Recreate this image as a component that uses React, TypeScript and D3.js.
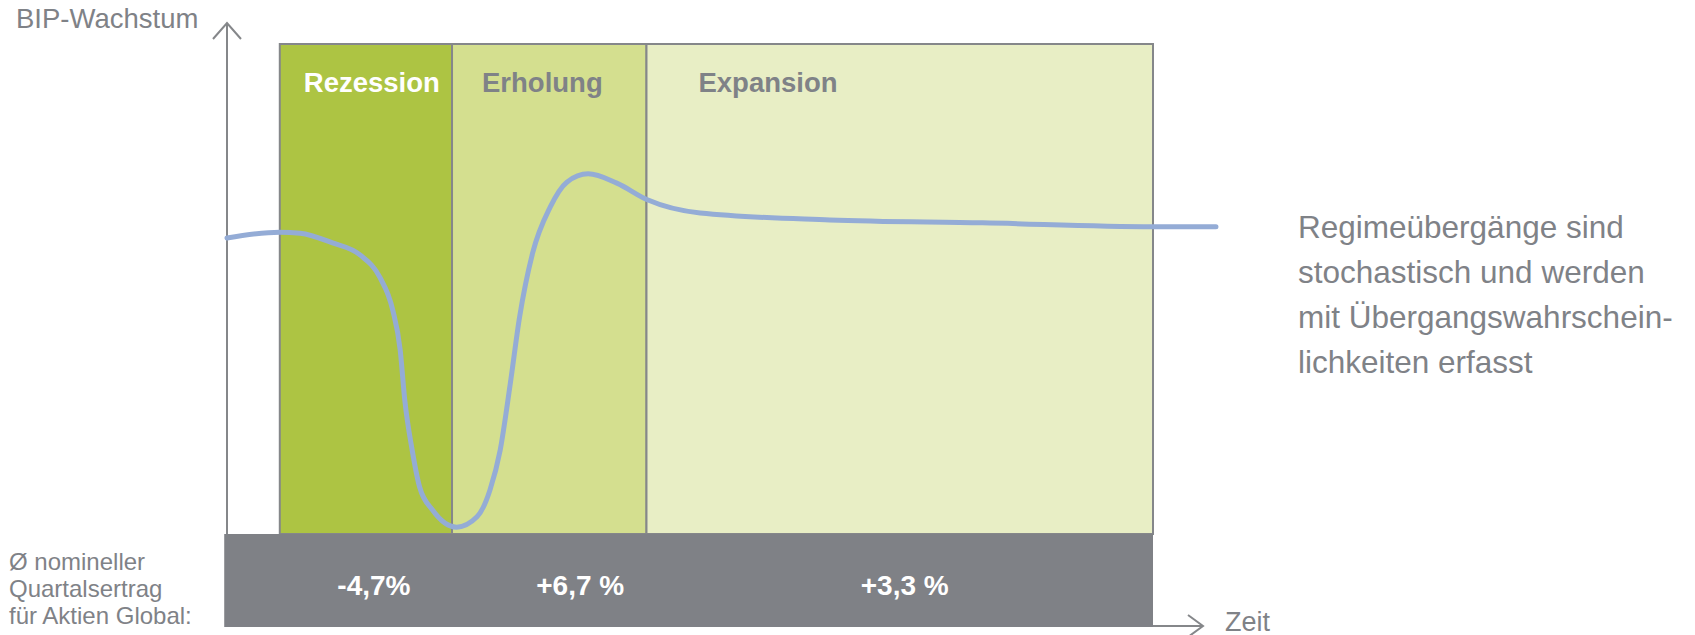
import React from 'react'
import * as d3 from 'd3'

// ------------------------------------------------------------------ //
// data (time axis 0..100 = origin .. right end of regime box,
// growth axis 0..100 = bottom .. top of regime box)

const regimeNames = ["Rezession", "Erholung", "Expansion"]
const regimeStarts = [5.7, 24.3, 45.3]
const regimeEnds = [24.3, 45.3, 100]
const regimeReturns = ["-4,7%", "+6,7 %", "+3,3 %"]

const curveTime = [0, 5.7, 7.9, 11.4, 14.4, 16.5, 17.9, 18.7, 19.2, 20.0, 20.8, 22.2, 24.8, 27.0, 28.4, 29.5, 30.6, 31.6, 33.0, 34.9, 36.7, 39.0, 42.1, 45.4, 51.1, 65.1, 81.6, 100, 106.8]
const curveGrowth = [60.4, 61.6, 61.4, 59.4, 56.9, 52.4, 45.7, 37.6, 27.3, 17.1, 9.6, 4.9, 1.4, 3.5, 9.0, 17.1, 30.8, 44.3, 57.3, 66.7, 71.8, 73.5, 71.6, 68.2, 65.5, 64.1, 63.5, 62.7, 62.7]

const returnLabel = ["Ø nomineller", "Quartalsertrag", "für Aktien Global:"]
const noteLines = ["Regimeübergänge sind", "stochastisch und werden", "mit Übergangswahrschein-", "lichkeiten erfasst"]

// ------------------------------------------------------------------ //

const W = 1695, H = 635
const font = "'Liberation Sans', Arial, sans-serif"
const grey = "#7f8287"
const axisGrey = "#85878a"
const regimeFill = ["#adc443", "#d4df8f", "#e8eec5"]
const regimeText = ["#ffffff", grey, grey]
// label offsets inside the boxes / bar (px)
const nameOffset = [24, 30, 52]
const returnOffset = [8, 31, 5]

const x = d3.scaleLinear().domain([0, 100]).range([227, 1153])
const y = d3.scaleLinear().domain([0, 100]).range([534, 44])

export default function App() {
    const pts: [number, number][] = curveTime.map((t, i) => [t, curveGrowth[i]])
    const line = d3.line<[number, number]>()
        .x(d => x(d[0]))
        .y(d => y(d[1]))
        .curve(d3.curveMonotoneX)

    const barTop = y(0), barBottom = 627
    const barLeft = x(-0.3), barRight = x(100)

    return (
        <svg width={W} height={H} style={{ position: "absolute", left: 0, top: 0, display: "block" }}
            fontFamily={font}>
            <rect width={W} height={H} fill="#fff" />

            {/* regime boxes */}
            {regimeNames.map((n, i) => (
                <rect key={n} x={x(regimeStarts[i])} y={y(100)}
                    width={x(regimeEnds[i]) - x(regimeStarts[i])} height={y(0) - y(100)}
                    fill={regimeFill[i]} stroke={axisGrey} strokeWidth={2} />
            ))}
            {regimeNames.map((n, i) => (
                <text key={n + "-t"} x={x(regimeStarts[i]) + nameOffset[i]} y={92}
                    fontSize={27.5} fontWeight="bold" fill={regimeText[i]}>{n}</text>
            ))}

            {/* y axis */}
            <line x1={x(0)} x2={x(0)} y1={23} y2={barTop} stroke={axisGrey} strokeWidth={2} />
            <polyline points={`${x(0) - 14},39 ${x(0)},23 ${x(0) + 14},39`} fill="none" stroke={axisGrey} strokeWidth={2} />
            <text x={16} y={28} fontSize={27.5} fill={grey}>BIP-Wachstum</text>

            {/* growth curve */}
            <path d={line(pts) || ""} fill="none" stroke="#94acd6" strokeWidth={5} strokeLinecap="round" />

            {/* returns bar */}
            <rect x={barLeft} y={barTop} width={barRight - barLeft} height={barBottom - barTop} fill="#7f8186" />
            {regimeReturns.map((r, i) => (
                <text key={r} x={x((regimeStarts[i] + regimeEnds[i]) / 2) + returnOffset[i]} y={595}
                    textAnchor="middle" fontSize={28} fontWeight="bold" fill="#fff">{r}</text>
            ))}
            {returnLabel.map((l, i) => (
                <text key={l} x={9} y={570 + i * 27} fontSize={24} fill={grey}>{l}</text>
            ))}

            {/* x axis */}
            <line x1={barRight} x2={1203} y1={626} y2={626} stroke={axisGrey} strokeWidth={2} />
            <polyline points={`1188,615 1203,626 1188,637`} fill="none" stroke={axisGrey} strokeWidth={2} />
            <text x={1225} y={631} fontSize={27} fill={grey}>Zeit</text>

            {/* note */}
            {noteLines.map((l, i) => (
                <text key={l} x={1298} y={238 + i * 45} fontSize={31.5} fill={grey}>{l}</text>
            ))}
        </svg>
    )
}
